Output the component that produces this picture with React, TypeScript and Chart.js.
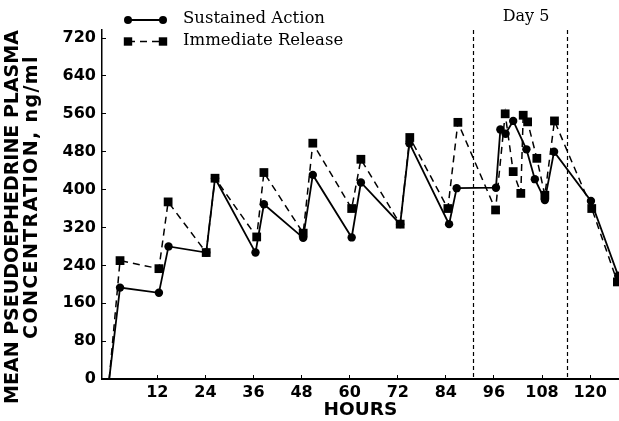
import React, { useEffect, useRef } from 'react';
import { Chart, registerables } from 'chart.js';

Chart.register(...registerables);

// Hours after first dose
const saHours = [0, 2.7, 12.4, 14.8, 24.2, 26.4, 36.5, 38.6, 48.4, 50.8, 60.5, 62.8, 72.6, 74.9, 84.8, 86.7, 96.5, 97.6, 98.9, 100.8, 104.1, 106.2, 108.7, 111.0, 120.2, 127.0];
const saConc = [0, 193, 182, 280, 267, 424, 267, 369, 298, 431, 299, 415, 327, 498, 327, 403, 404, 527, 518, 545, 485, 422, 378, 480, 376, 218];

const irHours = [0, 2.7, 12.4, 14.7, 24.2, 26.4, 36.8, 38.6, 48.4, 50.8, 60.5, 62.8, 72.6, 75.0, 84.5, 87.0, 96.4, 98.8, 100.8, 102.7, 103.3, 104.4, 106.7, 108.7, 111.1, 120.4, 126.8];
const irConc = [0, 250, 233, 374, 267, 424, 300, 436, 308, 498, 360, 464, 327, 510, 360, 542, 357, 560, 438, 392, 557, 543, 466, 388, 545, 360, 205];

const seriesLabels = ['Sustained Action', 'Immediate Release'];
const xTickValues = [12, 24, 36, 48, 60, 72, 84, 96, 108, 120];
const yTickValues = [0, 80, 160, 240, 320, 400, 480, 560, 640, 720];
const dayMarkerHours = [90.8, 114.2];
const dayLabel = 'Day 5';
const xTitle = 'HOURS';
const yTitle = ['MEAN PSEUDOEPHEDRINE PLASMA', 'CONCENTRATION, ng/ml'];

const toPoints = (xs: number[], ys: number[]) => xs.map((x, i) => ({ x, y: ys[i] }));

const drawMarker = (ctx: CanvasRenderingContext2D, style: string, x: number, y: number) => {
  ctx.beginPath();
  if (style === 'rect') {
    ctx.rect(x - 4.2, y - 4.2, 8.4, 8.4);
  } else {
    ctx.arc(x, y, 4, 0, Math.PI * 2);
  }
  ctx.fill();
};

const overlayPlugin = {
  id: 'overlay',
  afterDraw(chart: any) {
    const { ctx, chartArea, scales } = chart;
    ctx.save();
    // Day 5 dashed markers
    ctx.strokeStyle = '#000';
    ctx.lineWidth = 1.2;
    ctx.setLineDash([4, 3]);
    dayMarkerHours.forEach((h) => {
      const x = Math.round(scales.x.getPixelForValue(h)) + 0.5;
      ctx.beginPath();
      ctx.moveTo(x, chartArea.top);
      ctx.lineTo(x, chartArea.bottom);
      ctx.stroke();
    });
    ctx.setLineDash([]);
    const mid = (scales.x.getPixelForValue(dayMarkerHours[0]) + scales.x.getPixelForValue(dayMarkerHours[1])) / 2;
    ctx.fillStyle = '#000';
    ctx.font = '16px "DejaVu Serif"';
    ctx.textAlign = 'center';
    ctx.textBaseline = 'middle';
    ctx.fillText(dayLabel, mid + 6, 17);

    // Y axis title (two rotated lines)
    ctx.save();
    ctx.font = 'bold 19px "DejaVu Sans"';
    ctx.textAlign = 'center';
    ctx.textBaseline = 'middle';
    const lineX = [13.5, 32.5];
    const lineY = [217, 197];
    const spacing = ['0px', '1.4px'];
    yTitle.forEach((t, i) => {
      ctx.save();
      (ctx as any).letterSpacing = spacing[i];
      ctx.translate(lineX[i], lineY[i]);
      ctx.rotate(-Math.PI / 2);
      ctx.fillText(t, 0, 0);
      ctx.restore();
    });
    ctx.restore();

    // Legend
    const rowsText = [18.5, 40.5];
    const rowsSym = [20, 41.5];
    const x1 = 128;
    const x2 = 163;
    chart.data.datasets.forEach((ds: any, i: number) => {
      const ys = rowsSym[i];
      ctx.strokeStyle = '#000';
      ctx.lineWidth = ds.borderWidth;
      ctx.setLineDash(ds.borderDash || []);
      ctx.beginPath();
      ctx.moveTo(x1, ys);
      ctx.lineTo(x2, ys);
      ctx.stroke();
      ctx.setLineDash([]);
      ctx.fillStyle = '#000';
      drawMarker(ctx, ds.pointStyle, x1, ys);
      drawMarker(ctx, ds.pointStyle, x2, ys);
      ctx.font = '16.5px "DejaVu Serif"';
      ctx.textAlign = 'left';
      ctx.textBaseline = 'middle';
      ctx.fillText(ds.label, 183, rowsText[i]);
    });
    ctx.restore();
  },
};

export default function App() {
  const canvasRef = useRef<HTMLCanvasElement | null>(null);

  useEffect(() => {
    if (!canvasRef.current) return;
    const tickFont = { family: 'DejaVu Sans', weight: 'bold' as const, size: 16 };
    const chart = new Chart(canvasRef.current, {
      type: 'line',
      data: {
        datasets: [
          {
            label: seriesLabels[0],
            data: toPoints(saHours, saConc),
            borderColor: '#000',
            backgroundColor: '#000',
            borderWidth: 1.8,
            pointStyle: 'circle',
            pointRadius: (c: any) => (c.dataIndex === 0 ? 0 : 4.2),
            pointBorderWidth: 0,
            tension: 0,
          },
          {
            label: seriesLabels[1],
            data: toPoints(irHours, irConc),
            borderColor: '#000',
            backgroundColor: '#000',
            borderWidth: 1.5,
            borderDash: [7, 5],
            pointStyle: 'rect',
            pointRadius: (c: any) => (c.dataIndex === 0 ? 0 : 6.2),
            pointBorderWidth: 0,
            tension: 0,
          },
        ],
      },
      options: {
        responsive: false,
        animation: false,
        events: [],
        layout: { autoPadding: false, padding: { top: 30, left: 0, right: 0, bottom: 0 } },
        plugins: {
          legend: { display: false },
          tooltip: { enabled: false },
          title: { display: false },
        },
        scales: {
          x: {
            type: 'linear',
            min: -1.8,
            max: 127.2,
            afterBuildTicks: (s: any) => {
              s.ticks = xTickValues.map((v) => ({ value: v }));
            },
            afterFit: (s: any) => {
              s.height = 42;
              s.paddingLeft = 0;
              s.paddingRight = 0;
            },
            grid: { drawOnChartArea: false, drawTicks: true, tickLength: -4, color: '#000', lineWidth: 1 },
            border: { display: true, color: '#000', width: 2 },
            ticks: { color: '#000', font: tickFont, padding: 8, maxRotation: 0, autoSkip: false },
            title: {
              display: true,
              text: xTitle,
              color: '#000',
              font: { family: 'DejaVu Sans', weight: 'bold', size: 18.5 },
              padding: { top: 0, bottom: 0 },
            },
          },
          y: {
            type: 'linear',
            min: 0,
            max: 737,
            afterBuildTicks: (s: any) => {
              s.ticks = yTickValues.map((v) => ({ value: v }));
            },
            afterFit: (s: any) => {
              s.width = 102;
              s.paddingTop = 0;
              s.paddingBottom = 0;
            },
            grid: { drawOnChartArea: false, drawTicks: true, tickLength: -4, color: '#000', lineWidth: 1 },
            border: { display: true, color: '#000', width: 1.5 },
            ticks: { color: '#000', font: tickFont, padding: 10 },
            title: { display: false },
          },
        },
      },
      plugins: [overlayPlugin],
    } as any);
    return () => chart.destroy();
  }, []);

  return (
    <div style={{ position: 'fixed', left: 0, top: 0, width: 619, height: 421, background: '#fff' }}>
      <canvas ref={canvasRef} width={619} height={421} style={{ display: 'block' }} />
    </div>
  );
}
